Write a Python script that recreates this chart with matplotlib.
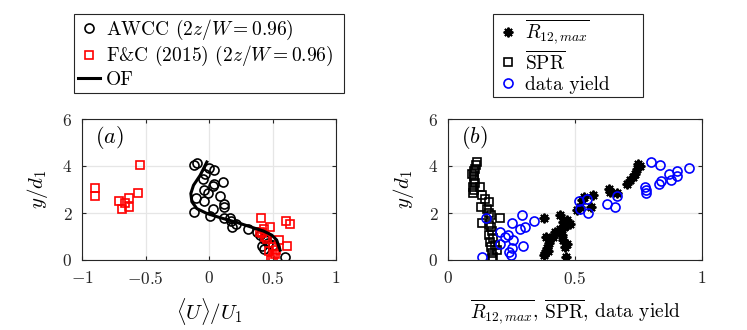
import numpy as np
import matplotlib
matplotlib.use('Agg')
import matplotlib.pyplot as plt

plt.rcParams['mathtext.fontset'] = 'cm'
plt.rcParams['font.family'] = ['cmr10', 'DejaVu Serif']

# ---- panel (a) data ----
awcc_u = [-0.117, -0.096, 0.0, 0.038, -0.03, -0.048, 0.114, 0.035, 0.04, -0.038,
          -0.009, 0.088, -0.10, -0.043, 0.12, 0.12, 0.03, -0.12, 0.007, 0.12,
          0.17, 0.18, 0.21, 0.31, 0.376, 0.40, 0.435, 0.416, 0.435, 0.467,
          0.60, 0.167, 0.50, 0.45]
awcc_y = [4.06, 4.13, 3.92, 3.81, 3.68, 3.45, 3.33, 3.16, 3.25, 2.97,
          2.83, 2.73, 2.62, 2.50, 2.38, 2.26, 2.15, 2.04, 1.87, 1.80,
          1.67, 1.42, 1.54, 1.32, 1.20, 1.05, 0.88, 0.59, 0.45, 0.71,
          0.14, 1.80, 0.62, 1.00]

fc_u = [-0.541, -0.90, -0.90, -0.557, -0.712, -0.633, -0.664, -0.682, -0.628,
        0.408, 0.607, 0.641, 0.481, 0.431, 0.42, 0.44, 0.46, 0.552, 0.615,
        0.507, 0.47, 0.518, 0.505, 0.49, 0.53, 0.40]
fc_y = [4.05, 3.08, 2.73, 2.86, 2.52, 2.63, 2.41, 2.15, 2.26,
        1.80, 1.67, 1.53, 1.41, 1.30, 1.13, 0.99, 0.90, 0.85, 0.58,
        0.57, 0.38, 0.24, 0.13, 0.0, 0.42, 1.18]

of_u = [-0.017, -0.07, -0.122, -0.143, -0.135, -0.096, -0.017, 0.088, 0.219,
        0.35, 0.43, 0.494, 0.533, 0.56]
of_y = [4.17, 3.6, 3.18, 2.83, 2.48, 2.19, 1.98, 1.80, 1.60,
        1.37, 1.23, 1.06, 0.85, 0.42]

# ---- panel (b) data ----
r12_x = [0.379, 0.386, 0.442, 0.453, 0.468, 0.479, 0.442, 0.455, 0.423, 0.413,
         0.396, 0.39, 0.383, 0.392, 0.379, 0.449, 0.453, 0.459, 0.465, 0.508,
         0.518, 0.528, 0.534, 0.564, 0.571, 0.633, 0.639, 0.665, 0.705, 0.718,
         0.727, 0.738, 0.744, 0.747, 0.757, 0.46, 0.47]
r12_y = [1.77, 0.96, 1.91, 1.63, 1.70, 1.53, 1.34, 1.39, 1.20, 0.99,
         0.71, 0.50, 0.28, 0.38, 0.21, 1.06, 0.85, 0.57, 0.11, 2.12,
         2.26, 2.55, 2.69, 2.26, 2.76, 3.04, 2.90, 2.83, 3.25, 3.40,
         3.54, 3.68, 3.89, 4.10, 3.99, 1.45, 0.70]

spr_x = [0.114, 0.112, 0.108, 0.101, 0.094, 0.104, 0.101, 0.108, 0.098, 0.101,
         0.097, 0.127, 0.134, 0.147, 0.16, 0.13, 0.154, 0.161, 0.171, 0.206,
         0.134, 0.16, 0.169, 0.173, 0.16, 0.177, 0.167, 0.186, 0.169, 0.193,
         0.173, 0.176, 0.173]
spr_y = [4.19, 4.03, 3.89, 3.78, 3.68, 3.57, 3.42, 3.28, 3.11, 2.97,
         2.86, 3.11, 2.76, 2.58, 2.48, 2.26, 2.19, 2.01, 1.91, 1.77,
         1.56, 1.49, 1.39, 1.25, 1.06, 0.95, 0.78, 0.64, 0.57, 0.42,
         0.28, 0.11, 0.03]

yield_x = [0.134, 0.151, 0.203, 0.235, 0.226, 0.206, 0.256, 0.239, 0.248, 0.252,
           0.294, 0.253, 0.291, 0.282, 0.303, 0.339, 0.516, 0.521, 0.547, 0.55,
           0.626, 0.659, 0.665, 0.777, 0.78, 0.781, 0.80, 0.833, 0.829, 0.838,
           0.869, 0.878, 0.902, 0.902, 0.947]
yield_y = [0.11, 1.80, 1.20, 1.06, 0.96, 0.68, 0.85, 0.35, 0.21, 0.50,
           0.59, 1.56, 1.91, 1.30, 1.42, 1.67, 2.50, 2.15, 2.60, 2.01,
           2.38, 2.26, 2.72, 3.11, 2.97, 2.83, 4.17, 4.03, 3.25, 3.37,
           3.68, 3.42, 3.79, 3.57, 3.93]

xa_ticks = [-1, -0.5, 0, 0.5, 1]
xa_labels = [r'$-1$', r'$-0.5$', r'$0$', r'$0.5$', r'$1$']
xb_ticks = [0, 0.5, 1]
xb_labels = [r'$0$', r'$0.5$', r'$1$']
y_ticks = [0, 2, 4, 6]
y_labels = [r'$0$', r'$2$', r'$4$', r'$6$']

fs = 12.5
fig = plt.figure(figsize=(7.47, 3.30), dpi=100)
ax1 = fig.add_axes([82 / 747, 70 / 330, 254 / 747, 141 / 330])
ax2 = fig.add_axes([448 / 747, 70 / 330, 254 / 747, 141 / 330])

h1 = ax1.plot(awcc_u, awcc_y, 'o', mfc='none', mec='k', ms=6.5, mew=1.2,
              label=r'AWCC $(2z/W{=}0.96)$')[0]
h2 = ax1.plot(fc_u, fc_y, 's', mfc='none', mec='r', ms=6, mew=1.2,
              label=r'F&C (2015) $(2z/W{=}0.96)$')[0]
h3 = ax1.plot(of_u, of_y, '-', color='k', lw=2.2, label='OF')[0]

h4 = ax2.plot(r12_x, r12_y, marker=(8, 2, 0), ls='none', color='k', ms=7, mew=1.4,
              label=r'$\overline{R_{12,max}}$')[0]
h5 = ax2.plot(spr_x, spr_y, 's', mfc='none', mec='k', ms=6, mew=1.2,
              label=r'$\overline{\mathrm{SPR}}$')[0]
h6 = ax2.plot(yield_x, yield_y, 'o', mfc='none', mec='b', ms=6.5, mew=1.2,
              label='data yield')[0]

for ax, xt, xl in [(ax1, xa_ticks, xa_labels), (ax2, xb_ticks, xb_labels)]:
    ax.set_xlim(xt[0], xt[-1])
    ax.set_ylim(0, 6)
    ax.set_xticks(xt)
    ax.set_xticklabels(xl, fontsize=fs, color='#262626')
    ax.set_yticks(y_ticks)
    ax.set_yticklabels(y_labels, fontsize=fs, color='#262626')
    ax.grid(True, color='#e6e6e6', lw=0.9)
    ax.set_axisbelow(True)
    ax.tick_params(direction='in', length=3, width=0.8, color='#262626',
                   top=True, right=True, pad=7)
    for sp in ax.spines.values():
        sp.set_color('#262626')
        sp.set_linewidth(0.8)
    ax.set_ylabel(r'$y/d_1$', fontsize=15, labelpad=9)

ax1.set_xlabel(r'$\langle U\rangle/U_1$', fontsize=15, labelpad=7)
ax2.set_xlabel(r'$\overline{R_{12,max}}$, $\overline{\mathrm{SPR}}$, data yield',
               fontsize=14, labelpad=8)
ax1.text(0.05, 0.87, r'$(a)$', transform=ax1.transAxes, fontsize=16, va='center')
ax2.text(0.05, 0.87, r'$(b)$', transform=ax2.transAxes, fontsize=16, va='center')

leg_kw = dict(fontsize=14, frameon=True, fancybox=False, edgecolor='#262626',
              framealpha=1, handlelength=1.15, handletextpad=0.3,
              borderpad=0.2, labelspacing=0.12, borderaxespad=0,
              loc='upper left', mode='expand')
leg1 = fig.legend(handles=[h1, h2, h3],
                  bbox_to_anchor=(74 / 747, 1 - 93 / 330, 270 / 747, 79 / 330), **leg_kw)
leg2 = fig.legend(handles=[h4, h5, h6],
                  bbox_to_anchor=(493 / 747, 1 - 95 / 330, 150 / 747, 81 / 330), **leg_kw)
for leg in (leg1, leg2):
    leg.get_frame().set_linewidth(0.8)

fig.savefig('out.png', dpi=100)
